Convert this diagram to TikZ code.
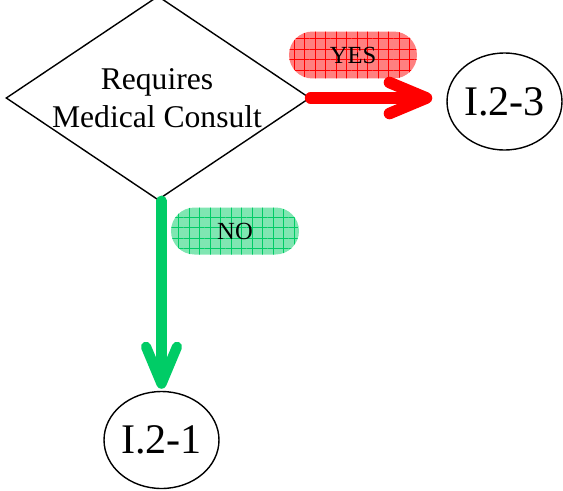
\documentclass[tikz,border=0pt]{standalone}
\usepackage{fontspec}
\setmainfont{Liberation Serif}
\newfontfamily\timesfont{Liberation Serif}
\usepackage{xcolor}
\usepackage{tikz}
\usetikzlibrary{shapes.geometric,shapes.misc,arrows.meta,patterns.meta}

\definecolor{nogreen}{RGB}{0,204,102}
\definecolor{yesred}{RGB}{255,0,0}

\tikzset{
	endpoint/.style={draw, ellipse, line width=0.8pt, inner sep=0pt, minimum width=2.3cm, minimum height=1.94cm, font=\timesfont\fontsize{24}{28}\selectfont},
	answer/.style={rounded rectangle, inner sep=0pt, minimum width=2.56cm, minimum height=0.94cm, font=\timesfont\fontsize{14}{16}\selectfont, preaction={fill=#1!50}, pattern={Hatch[angle=0, distance=0.21cm, line width=0.35pt]}, pattern color=#1},
	flow/.style={draw=#1, line cap=round, -{Straight Barb[length=0.74cm, width=0.62cm, line cap=round, line join=round]}}
}

\begin{document}
\begin{tikzpicture}[x=0.02cm, y=-0.02cm]
	\useasboundingbox (0,0) rectangle (563,490);
	\node[draw, diamond, minimum width=6.08cm, minimum height=4.08cm, inner sep=0pt, line width=0.8pt] (consult) at (158,98) {};
	\node[align=center, font=\timesfont\fontsize{18}{21.6}\selectfont] (consulttext) at (157,98) {Requires\\Medical Consult};
	\node[endpoint] (r23) at (504.5,101.5) {I.2-3};
	\node[endpoint] (r21) at (161.5,440) {I.2-1};
	\node[answer=yesred] (yes) at (353,55) {YES};
	\node[answer=nogreen] (no) at (235,231) {NO};
	\draw[flow=yesred, line width=6.6pt, shorten >=0.28cm] (consult.east) -- (consult.east -| r23.west);
	\draw[flow=nogreen, line width=5.8pt, shorten >=0.04cm] (r21.north |- consult.south) -- (r21.north);
\end{tikzpicture}
\end{document}
